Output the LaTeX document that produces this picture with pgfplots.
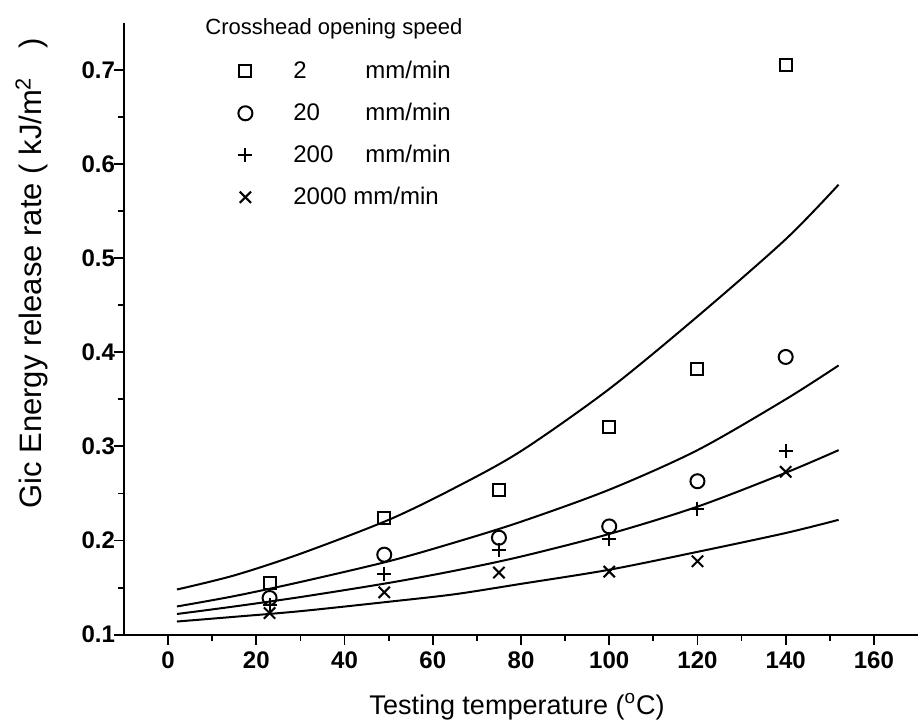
\documentclass[border=0pt]{standalone}
\usepackage{fontspec}
\setmainfont{Liberation Sans}
\usepackage{pgfplots}
\pgfplotsset{compat=1.18}

% measured points: temperature (C) vs Gic (kJ/m^2)
\pgfplotstableread{
x    y
23   0.155
49   0.224
75   0.254
100  0.321
120  0.382
140  0.705
}\speedA
\pgfplotstableread{
x    y
23   0.139
49   0.185
75   0.203
100  0.215
120  0.263
140  0.395
}\speedB
\pgfplotstableread{
x    y
23   0.132
49   0.165
75   0.190
100  0.202
120  0.234
140  0.295
}\speedC
\pgfplotstableread{
x    y
23   0.123
49   0.145
75   0.166
100  0.167
120  0.178
140  0.273
}\speedD

% fitted curves
\pgfplotstableread{
x    a      b      c      d
2    0.148  0.130  0.122  0.114
15   0.163  0.141  0.130  0.119
30   0.186  0.156  0.140  0.125
50   0.222  0.178  0.155  0.135
65   0.256  0.198  0.168  0.143
80   0.295  0.220  0.183  0.154
100  0.361  0.254  0.207  0.169
120  0.438  0.296  0.236  0.188
140  0.520  0.350  0.272  0.208
152  0.578  0.386  0.296  0.222
}\fits

\begin{document}
\begin{tikzpicture}
\begin{axis}[
    width=397pt, height=306pt, scale only axis,
    xmin=-10, xmax=170,
    ymin=0.1, ymax=0.75,
    axis lines*=left,
    axis line style={line width=1pt},
    xtick={0,20,40,60,80,100,120,140,160},
    ytick={0.1,0.2,0.3,0.4,0.5,0.6,0.7},
    minor x tick num=1, minor y tick num=1,
    tick align=outside,
    major tick length=5pt, minor tick length=3pt,
    every tick/.style={black, line width=0.9pt},
    /pgf/number format/assume math mode=true,
    yticklabel style={/pgf/number format/fixed,
        /pgf/number format/precision=1,
        /pgf/number format/fixed zerofill, xshift=4pt},
    tick label style={font=\fontsize{12}{14}\selectfont\bfseries},
    xlabel={Testing temperature (\textsuperscript{o}C)},
    ylabel={Gic Energy release rate ( kJ/m\textsuperscript{2}\hspace{14pt})},
    label style={font=\fontsize{15.5}{17}\selectfont},
    xlabel style={at={(axis description cs:0.495,-0.118)}, anchor=center,
        font=\fontsize{13.5}{16}\selectfont},
    ylabel style={at={(axis description cs:-0.1165,0.59)}, anchor=center},
    legend style={at={(axis description cs:0.136,0.951)}, anchor=north west,
        draw=none, fill=none, font=\fontsize{12}{14}\selectfont,
        row sep=6.8pt},
    legend cell align=left,
    clip=false,
]
\addplot[only marks, mark=square, mark size=3pt, line width=1pt] table {\speedA};
\addlegendentry{\hspace*{18.5pt}\makebox[36pt][l]{2}mm/min}
\addplot[only marks, mark=o, mark size=3.5pt, line width=1pt] table {\speedB};
\addlegendentry{\hspace*{18.5pt}\makebox[36pt][l]{20}mm/min}
\addplot[only marks, mark=+, mark size=3.5pt, line width=1pt] table {\speedC};
\addlegendentry{\hspace*{18.5pt}\makebox[36pt][l]{200}mm/min}
\addplot[only marks, mark=x, mark size=4pt, line width=1pt] table {\speedD};
\addlegendentry{\hspace*{18.5pt}2000 mm/min}

\addplot[forget plot, smooth, line width=1pt] table[x=x, y=a] {\fits};
\addplot[forget plot, smooth, line width=1pt] table[x=x, y=b] {\fits};
\addplot[forget plot, smooth, line width=1pt] table[x=x, y=c] {\fits};
\addplot[forget plot, smooth, line width=1pt] table[x=x, y=d] {\fits};

\node[anchor=base west, font=\fontsize{11}{14}\selectfont]
    at (axis description cs:0.0937,0.980) {Crosshead opening speed};
\end{axis}
\pgfresetboundingbox
\path[use as bounding box]
    ([xshift=-62pt,yshift=-46.5pt]current axis.south west)
    rectangle ([yshift=11.35pt]current axis.north east);
\end{tikzpicture}
\end{document}
